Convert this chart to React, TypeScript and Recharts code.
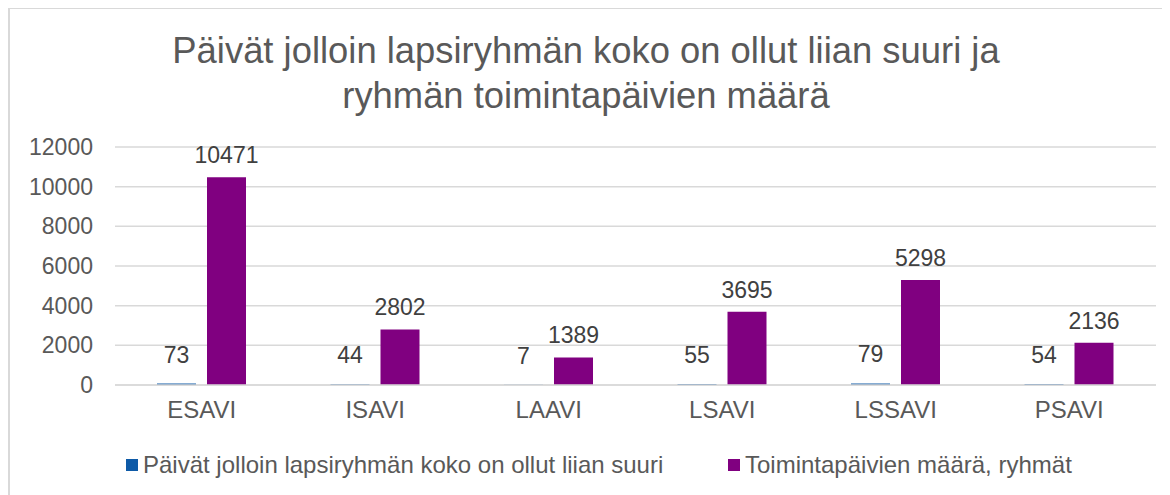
import { BarChart, Bar, XAxis, YAxis, CartesianGrid, LabelList } from 'recharts';

const regions = ['ESAVI', 'ISAVI', 'LAAVI', 'LSAVI', 'LSSAVI', 'PSAVI'];
const oversizeDays = [73, 44, 7, 55, 79, 54];
const operatingDays = [10471, 2802, 1389, 3695, 5298, 2136];
const yTicks = [0, 2000, 4000, 6000, 8000, 10000, 12000];

const titleLines = [
  'Päivät jolloin lapsiryhmän koko on ollut liian suuri ja',
  'ryhmän toimintapäivien määrä',
];
const seriesNames = [
  'Päivät jolloin lapsiryhmän koko on ollut liian suuri',
  'Toimintapäivien määrä, ryhmät',
];
const seriesColors = ['#0E5AA7', '#800080'];

const data = regions.map((r, i) => ({
  name: r,
  oversize: oversizeDays[i],
  operating: operatingDays[i],
}));

const FONT = '"Liberation Sans", Arial, sans-serif';

export default function App() {
  return (
    <div
      style={{
        position: 'relative',
        width: 1170,
        height: 495,
        border: '2px solid #d9d9d9',
        boxSizing: 'border-box',
        marginTop: -1,
        background: '#fff',
        fontFamily: FONT,
      }}
    >
      <div
        style={{
          position: 'absolute',
          left: 0,
          top: 19,
          width: 1152,
          textAlign: 'center',
          fontSize: 36.4,
          lineHeight: '45px',
          color: '#595959',
        }}
      >
        {titleLines.map((l) => (
          <div key={l}>{l}</div>
        ))}
      </div>
      <div style={{ position: 'absolute', left: 0, top: 0 }}>
        <BarChart
          width={1160}
          height={490}
          data={data}
          margin={{ top: 138, right: 14, bottom: 54, left: 0 }}
          barCategoryGap={42}
          barGap={11}
        >
          <CartesianGrid vertical={false} stroke="#d9d9d9" strokeWidth={1.5} />
          <XAxis
            dataKey="name"
            axisLine={{ stroke: '#d9d9d9', strokeWidth: 1.5 }}
            tickLine={false}
            tickMargin={10}
            tick={{ fill: '#595959', fontSize: 24, fontFamily: FONT }}
            height={60}
          />
          <YAxis
            domain={[0, 12000]}
            ticks={yTicks}
            axisLine={false}
            tickLine={false}
            tickMargin={16}
            width={105}
            tick={{ fill: '#595959', fontSize: 23, fontFamily: FONT }}
          />
          <Bar dataKey="oversize" fill={seriesColors[0]} barSize={39} isAnimationActive={false}>
            <LabelList dataKey="oversize" position="top" offset={21} fill="#404040" fontSize={23} fontFamily={FONT} />
          </Bar>
          <Bar dataKey="operating" fill={seriesColors[1]} barSize={39} isAnimationActive={false}>
            <LabelList dataKey="operating" position="top" offset={14} fill="#404040" fontSize={23} fontFamily={FONT} />
          </Bar>
        </BarChart>
      </div>
      {seriesNames.map((n, i) => (
        <div
          key={n}
          style={{
            position: 'absolute',
            left: i === 0 ? 116 : 718,
            top: 441,
            height: 30,
            display: 'flex',
            alignItems: 'center',
            whiteSpace: 'nowrap',
            fontSize: 24,
            color: '#595959',
          }}
        >
          <span style={{ width: 12, height: 12, background: seriesColors[i], marginRight: 5, display: 'inline-block' }} />
          {n}
        </div>
      ))}
    </div>
  );
}
